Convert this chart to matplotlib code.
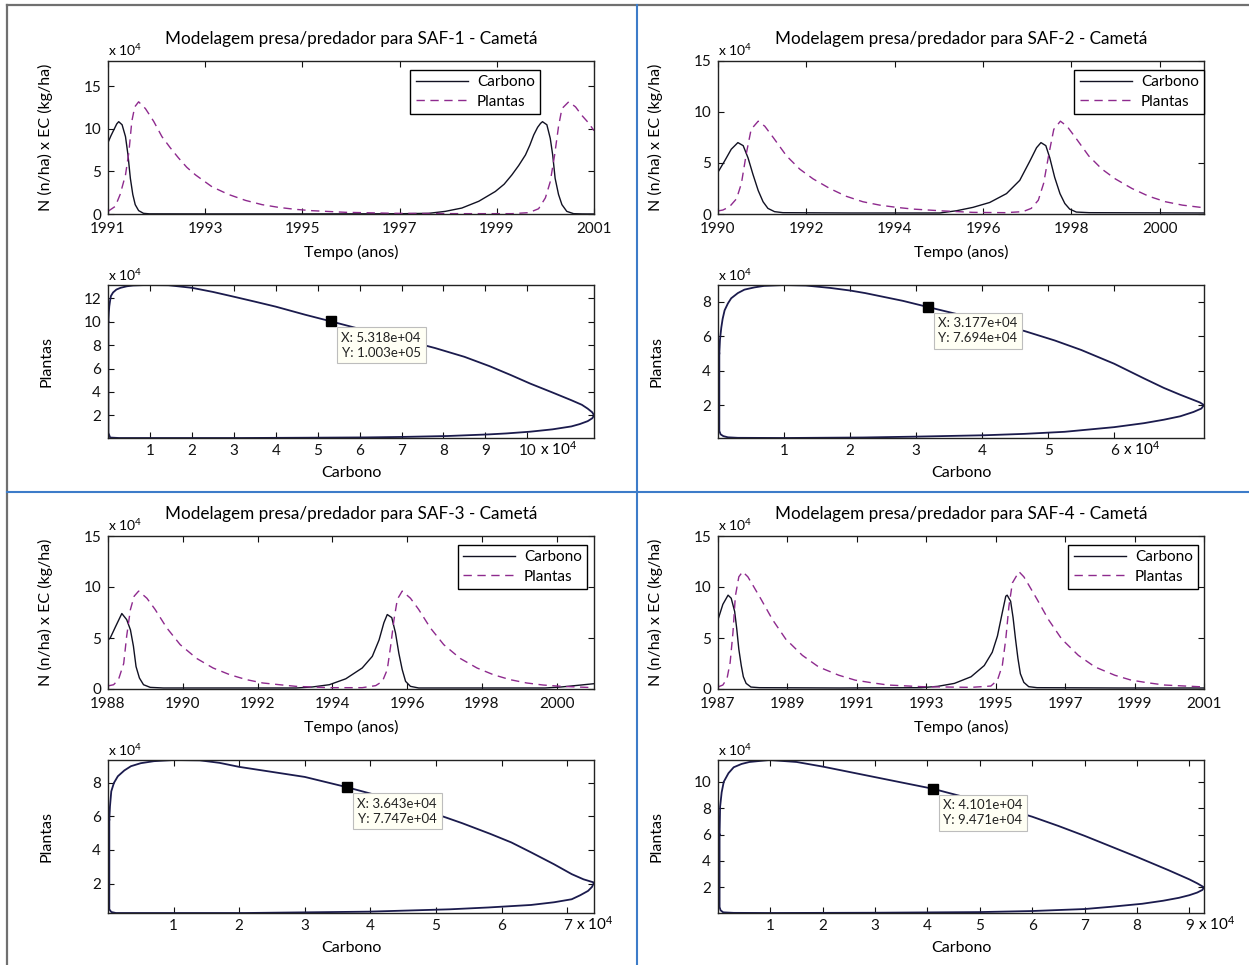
import matplotlib
matplotlib.use('Agg')
import matplotlib.pyplot as plt
from matplotlib.lines import Line2D

plt.rcParams['font.family'] = ['Lato', 'DejaVu Sans']
plt.rcParams['mathtext.default'] = 'regular'

# ---- time series (values in x 10^4) ----
# SAF-1
t_carb1 = [1991.0, 1991.06, 1991.12, 1991.18, 1991.22, 1991.29, 1991.36, 1991.41, 1991.46, 1991.51,
           1991.56, 1991.63, 1991.73, 1991.85, 1993.0, 1995.0, 1997.0, 1997.6, 1997.94, 1998.28,
           1998.63, 1998.97, 1999.15, 1999.31, 1999.45, 1999.59, 1999.68, 1999.76, 1999.84, 1999.9,
           1999.94, 2000.03, 2000.1, 2000.15, 2000.2, 2000.27, 2000.34, 2000.44, 2000.58, 2000.75,
           2001.0]
carb1 = [8.4, 9.2, 9.9, 10.6, 10.86, 10.5, 9.1, 7.0, 4.2, 2.3,
         1.1, 0.4, 0.08, 0.02, 0.01, 0.01, 0.03, 0.08, 0.31, 0.7,
         1.5, 2.65, 3.5, 4.6, 5.7, 6.95, 8.1, 9.3, 10.2, 10.66,
         10.86, 10.5, 8.9, 6.95, 4.2, 2.3, 1.1, 0.31, 0.04, 0.01,
         0.0]
t_plan1 = [1991.0, 1991.15, 1991.25, 1991.36, 1991.43, 1991.49, 1991.55, 1991.63, 1991.77, 1991.94,
           1992.11, 1992.28, 1992.45, 1992.62, 1992.8, 1993.14, 1993.48, 1993.83, 1994.17, 1994.51,
           1994.85, 1995.2, 1995.88, 1996.9, 1998.28, 1999.31, 1999.66, 1999.86, 2000.0, 2000.1,
           2000.19, 2000.27, 2000.34, 2000.48, 2000.62, 2000.75, 2000.89, 2001.0]
plan1 = [0.31, 0.9, 2.3, 4.6, 7.3, 10.9, 12.6, 13.2, 12.4, 10.9,
         9.1, 7.8, 6.6, 5.5, 4.6, 3.2, 2.3, 1.6, 1.1, 0.78,
         0.55, 0.39, 0.2, 0.08, 0.04, 0.04, 0.16, 0.62, 1.9, 3.8,
         6.95, 10.3, 12.4, 13.2, 12.6, 11.6, 10.7, 9.8]

# SAF-2
t_carb2 = [1990.0, 1990.15, 1990.3, 1990.45, 1990.57, 1990.68, 1990.79, 1990.91, 1991.02, 1991.13,
           1991.28, 1991.47, 1993.0, 1995.02, 1995.4, 1995.77, 1996.15, 1996.53, 1996.83, 1997.06,
           1997.21, 1997.31, 1997.42, 1997.51, 1997.62, 1997.74, 1997.85, 1997.96, 1998.11, 1998.4,
           2001.0]
carb2 = [4.1, 5.2, 6.35, 7.0, 6.7, 5.5, 3.9, 2.3, 1.2, 0.55,
         0.23, 0.13, 0.1, 0.1, 0.32, 0.65, 1.13, 2.0, 3.3, 5.2,
         6.5, 7.0, 6.7, 5.5, 3.6, 2.0, 1.03, 0.48, 0.19, 0.13,
         0.1]
t_plan2 = [1990.0, 1990.11, 1990.26, 1990.42, 1990.53, 1990.64, 1990.75, 1990.91, 1991.06, 1991.25,
           1991.55, 1991.85, 1992.15, 1992.53, 1992.9, 1993.28, 1993.66, 1994.04, 1994.42, 1995.02,
           1995.77, 1996.5, 1996.9, 1997.09, 1997.25, 1997.37, 1997.49, 1997.6, 1997.75, 1997.9,
           1998.09, 1998.39, 1998.69, 1998.99, 1999.37, 1999.75, 2000.13, 2000.51, 2001.0]
plan2 = [0.3, 0.39, 0.71, 1.5, 3.0, 5.9, 8.3, 9.1, 8.6, 7.5,
         5.7, 4.4, 3.45, 2.5, 1.74, 1.2, 0.87, 0.65, 0.48, 0.32,
         0.16, 0.13, 0.23, 0.55, 1.35, 3.0, 5.9, 8.3, 9.1, 8.6,
         7.5, 5.7, 4.4, 3.45, 2.5, 1.74, 1.2, 0.87, 0.61]

# SAF-3
t_carb3 = [1988.0, 1988.06, 1988.2, 1988.37, 1988.5, 1988.6, 1988.68, 1988.75, 1988.84, 1988.95,
           1989.13, 1989.48, 1991.0, 1993.03, 1993.47, 1993.92, 1994.36, 1994.8, 1995.07, 1995.25,
           1995.38, 1995.47, 1995.59, 1995.69, 1995.78, 1995.87, 1995.96, 1996.09, 1996.31, 1998.0,
           1999.69, 2000.13, 2000.57, 2001.0]
carb3 = [4.8, 5.0, 6.1, 7.4, 6.8, 5.8, 4.2, 2.2, 1.08, 0.42,
         0.16, 0.1, 0.1, 0.1, 0.2, 0.42, 1.0, 2.06, 3.2, 4.8,
         6.5, 7.3, 7.0, 5.5, 3.5, 1.9, 0.75, 0.26, 0.1, 0.1,
         0.1, 0.2, 0.36, 0.52]
t_plan3 = [1988.0, 1988.15, 1988.28, 1988.42, 1988.5, 1988.6, 1988.7, 1988.82, 1989.04, 1989.26,
           1989.57, 1989.93, 1990.37, 1990.81, 1991.26, 1991.7, 1992.14, 1992.59, 1993.03, 1993.92,
           1994.8, 1995.16, 1995.34, 1995.47, 1995.56, 1995.65, 1995.74, 1995.87, 1996.09, 1996.31,
           1996.62, 1996.98, 1997.42, 1997.87, 1998.31, 1998.75, 1999.2, 1999.64, 2000.13, 2001.0]
plan3 = [0.3, 0.42, 0.92, 2.5, 5.2, 7.8, 9.1, 9.6, 8.9, 7.8,
         6.0, 4.35, 3.0, 2.06, 1.4, 0.92, 0.59, 0.42, 0.26, 0.13,
         0.13, 0.33, 0.75, 1.9, 4.2, 6.8, 8.8, 9.6, 8.9, 7.8,
         6.0, 4.35, 3.0, 2.06, 1.4, 0.92, 0.59, 0.39, 0.26, 0.13]

# SAF-4
t_carb4 = [1987.0, 1987.14, 1987.29, 1987.38, 1987.48, 1987.54, 1987.6, 1987.67, 1987.73, 1987.81,
           1987.95, 1988.19, 1990.5, 1992.86, 1993.33, 1993.81, 1994.29, 1994.67, 1994.9, 1995.05,
           1995.19, 1995.29, 1995.33, 1995.43, 1995.5, 1995.57, 1995.64, 1995.71, 1995.81, 1995.95,
           1996.19, 1998.5, 2001.0]
carb4 = [6.8, 8.3, 9.2, 8.9, 7.6, 5.9, 3.9, 2.3, 1.2, 0.55,
         0.19, 0.13, 0.1, 0.13, 0.26, 0.55, 1.2, 2.3, 3.6, 5.2,
         7.5, 9.1, 9.2, 8.6, 7.0, 4.9, 3.0, 1.5, 0.65, 0.23,
         0.13, 0.1, 0.1]
t_plan4 = [1987.0, 1987.14, 1987.26, 1987.35, 1987.43, 1987.5, 1987.6, 1987.71, 1987.86, 1988.0,
           1988.24, 1988.57, 1988.95, 1989.43, 1989.9, 1990.48, 1990.95, 1991.43, 1991.9, 1992.86,
           1994.29, 1994.86, 1995.05, 1995.19, 1995.29, 1995.38, 1995.48, 1995.67, 1995.81, 1995.95,
           1996.19, 1996.52, 1996.9, 1997.38, 1997.86, 1998.43, 1998.9, 1999.38, 1999.86, 2001.0]
plan4 = [0.2, 0.39, 1.03, 2.6, 5.5, 9.1, 11.0, 11.5, 11.0, 10.2,
         8.8, 6.8, 4.9, 3.3, 2.16, 1.35, 0.87, 0.61, 0.39, 0.23,
         0.16, 0.29, 0.87, 2.3, 4.9, 8.1, 10.4, 11.5, 11.0, 10.2,
         8.8, 6.8, 4.9, 3.3, 2.16, 1.35, 0.87, 0.61, 0.39, 0.2]

# ---- phase plots (Carbono vs Plantas, x 10^4) ----
ph_carb1 = [0.01, 0.02, 0.03, 0.05, 0.07, 0.12, 0.2, 0.3, 0.45, 0.6, 0.9, 1.44, 2.0, 2.5, 3.0,
            3.5, 4.0, 4.7, 5.318, 6.2, 7.0, 7.8, 8.5, 9.1, 9.6, 10.07, 10.6, 11.05, 11.3, 11.44,
            11.55, 11.59, 11.55, 11.44, 11.25, 11.05, 10.6, 10.07, 9.5, 9.09, 8.1, 7.0, 6.15, 4.5,
            3.2, 1.5, 0.26, 0.05, 0.01, 0.01]
ph_plan1 = [10.0, 10.8, 11.3, 11.8, 12.2, 12.5, 12.75, 12.9, 13.03, 13.1, 13.14, 13.12, 12.9, 12.55, 12.14,
            11.72, 11.29, 10.6, 10.03, 9.2, 8.5, 7.75, 7.0, 6.2, 5.45, 4.71, 3.95, 3.29, 2.9, 2.57,
            2.25, 2.0, 1.75, 1.5, 1.25, 1.05, 0.8, 0.6, 0.45, 0.37, 0.23, 0.15, 0.11, 0.08,
            0.06, 0.06, 0.06, 0.1, 0.5, 10.0]

ph_carb2 = [0.02, 0.03, 0.05, 0.07, 0.1, 0.15, 0.2, 0.3, 0.4, 0.55, 0.7, 1.0, 1.33, 1.7, 2.0,
            2.23, 2.8, 3.177, 3.6, 4.0, 4.64, 5.1, 5.5, 6.0, 6.45, 6.75, 7.0, 7.2, 7.3, 7.36,
            7.32, 7.2, 7.0, 6.75, 6.45, 6.0, 5.25, 4.64, 4.04, 3.0, 2.2, 1.0, 0.3, 0.15, 0.08,
            0.04, 0.02, 0.02]
ph_plan2 = [5.0, 5.8, 6.5, 7.0, 7.5, 7.9, 8.2, 8.5, 8.7, 8.83, 8.92, 8.97, 8.94, 8.8, 8.65,
            8.5, 8.05, 7.694, 7.3, 6.95, 6.3, 5.75, 5.2, 4.4, 3.55, 3.0, 2.6, 2.3, 2.15, 2.0,
            1.8, 1.6, 1.35, 1.15, 0.95, 0.72, 0.45, 0.33, 0.25, 0.17, 0.12, 0.09, 0.1, 0.13, 0.2,
            0.3, 0.5, 5.0]

ph_carb3 = [0.02, 0.03, 0.05, 0.09, 0.15, 0.25, 0.35, 0.5, 0.7, 1.0, 1.4, 1.7, 2.0, 2.5, 3.0,
            3.643, 4.3, 4.99, 5.4, 5.83, 6.15, 6.45, 6.8, 7.07, 7.25, 7.41, 7.38, 7.32, 7.2, 7.07,
            6.8, 6.45, 5.8, 5.21, 3.97, 2.1, 0.12, 0.05, 0.02, 0.02]
ph_plan3 = [5.8, 6.6, 7.5, 8.0, 8.4, 8.75, 9.0, 9.18, 9.3, 9.37, 9.35, 9.2, 8.96, 8.66, 8.36,
            7.747, 7.05, 6.16, 5.6, 4.96, 4.45, 3.86, 3.15, 2.56, 2.25, 2.06, 1.8, 1.56, 1.3, 1.06,
            0.88, 0.72, 0.57, 0.46, 0.32, 0.24, 0.24, 0.3, 0.46, 5.8]

ph_carb4 = [0.03, 0.035, 0.04, 0.07, 0.11, 0.2, 0.3, 0.45, 0.6, 0.98, 1.5, 2.0, 2.5, 3.0, 3.5,
            4.101, 4.6, 5.0, 5.5, 6.0, 6.5, 7.0, 7.5, 8.0, 8.3, 8.6, 8.8, 9.0, 9.15, 9.28,
            9.25, 9.15, 9.0, 8.8, 8.5, 8.1, 7.5, 7.0, 6.0, 5.0, 3.0, 1.0, 0.3, 0.1, 0.05,
            0.03, 0.03]
ph_plan4 = [6.0, 7.0, 8.1, 9.2, 10.0, 10.65, 11.1, 11.35, 11.5, 11.65, 11.5, 11.15, 10.75, 10.35, 9.95,
            9.471, 8.95, 8.5, 7.95, 7.35, 6.65, 5.9, 5.1, 4.3, 3.8, 3.3, 2.95, 2.6, 2.3, 2.0,
            1.8, 1.6, 1.4, 1.2, 0.98, 0.75, 0.52, 0.35, 0.2, 0.12, 0.07, 0.05, 0.06, 0.1, 0.25,
            0.5, 6.0]

# data tips (full values)
tip_x = [5.318e4, 3.177e4, 3.643e4, 4.101e4]
tip_y = [1.003e5, 7.694e4, 7.747e4, 9.471e4]

titles = ['Modelagem presa/predador para SAF-%d - Cametá' % i for i in (1, 2, 3, 4)]

time_xticks = [list(range(1991, 2002, 2)), list(range(1990, 2001, 2)),
               list(range(1988, 2001, 2)), list(range(1987, 2002, 2))]
time_ymax = [18, 15, 15, 15]
phase_xticks = [list(range(1, 11)), list(range(1, 7)), list(range(1, 8)), list(range(1, 10))]
phase_yticks = [list(range(2, 13, 2)), [2, 4, 6, 8], [2, 4, 6, 8], list(range(2, 11, 2))]
legend_x = [0.889, 1.0, 0.986, 0.988]

times = [(t_carb1, carb1, t_plan1, plan1), (t_carb2, carb2, t_plan2, plan2),
         (t_carb3, carb3, t_plan3, plan3), (t_carb4, carb4, t_plan4, plan4)]
phases = [(ph_carb1, ph_plan1), (ph_carb2, ph_plan2), (ph_carb3, ph_plan3), (ph_carb4, ph_plan4)]

W, H = 1249, 965
fig = plt.figure(figsize=(W / 100, H / 100), dpi=100)

# axes boxes in pixels: left, top
lefts = [108, 718, 108, 718]
time_tops = [61, 61, 536, 536]
phase_tops = [285, 285, 760, 760]
ax_w, ax_h = 486, 153


def add_ax(left, top):
    return fig.add_axes([left / W, 1 - (top + ax_h) / H, ax_w / W, ax_h / H])


def style(ax, xpad):
    ax.tick_params(direction='in', top=True, right=True, length=4.5, width=0.8,
                   labelsize=11, colors='#111111')
    ax.tick_params(axis='x', pad=xpad)
    ax.tick_params(axis='y', pad=5)
    for s in ax.spines.values():
        s.set_linewidth(1.0)
        s.set_color('#222222')


for i in range(4):
    tc, c, tp, p = times[i]
    ax = add_ax(lefts[i], time_tops[i])
    ax.plot(tc, c, color='#111122', lw=1.0, label='Carbono')
    ax.plot(tp, p, color='#8e2a8e', lw=1.0, ls=(0, (6, 4)), label='Plantas')
    ax.set_xlim(tc[0], tc[-1])
    ax.set_ylim(0, time_ymax[i])
    ax.set_xticks(time_xticks[i])
    ax.set_yticks([0, 5, 10, 15])
    style(ax, 6)
    ax.set_xlabel('Tempo (anos)', fontsize=11.5)
    ax.xaxis.set_label_coords(0.5, -0.205)
    ax.set_ylabel('N (n/ha) x EC (kg/ha)', fontsize=11.5)
    ax.yaxis.set_label_coords(-0.113, 0.5)
    ax.text(0.5, 1 + 22 / ax_h, titles[i], transform=ax.transAxes, ha='center', va='center',
            fontsize=12.3)
    ax.text(0.0, 1 + 11 / ax_h, 'x 10$^4$', transform=ax.transAxes, ha='left', va='center',
            fontsize=10)
    leg = ax.legend(loc='upper right', bbox_to_anchor=(legend_x[i], 0.941), fancybox=False,
                    edgecolor='black', framealpha=1, fontsize=11, handlelength=3.4,
                    borderpad=0.35, labelspacing=0.35, handletextpad=0.6, borderaxespad=0)
    leg.get_frame().set_linewidth(1.0)

    # phase plot
    px, py = phases[i]
    ax2 = add_ax(lefts[i], phase_tops[i])
    ax2.plot(px, py, color='#1b1b4d', lw=1.3)
    ax2.set_xlim(0, max(px))
    ax2.set_ylim(min(py), max(py))
    ax2.set_xticks(phase_xticks[i])
    ax2.set_yticks(phase_yticks[i])
    style(ax2, 4)
    ax2.set_xlabel('Carbono', fontsize=11.5)
    ax2.xaxis.set_label_coords(0.5, -0.18)
    ax2.set_ylabel('Plantas', fontsize=11.5)
    ax2.yaxis.set_label_coords(-0.113, 0.5)
    ax2.text(0.0, 1 + 10 / ax_h, 'x 10$^4$', transform=ax2.transAxes, ha='left', va='center',
             fontsize=10)
    last = phase_xticks[i][-1]
    half = len(str(last)) * 3.2
    ax2.annotate('x 10$^4$', xy=(last, 0), xycoords=ax2.get_xaxis_transform(),
                 xytext=(half + 3, -1.5), textcoords='offset points', ha='left', va='top',
                 fontsize=11)
    # data tip
    ax2.plot(tip_x[i] / 1e4, tip_y[i] / 1e4, 's', color='black', ms=7, zorder=6)
    ax2.annotate('X: %.3e\nY: %.3e' % (tip_x[i], tip_y[i]), xy=(tip_x[i] / 1e4, tip_y[i] / 1e4),
                 xytext=(7.5, -7.5), textcoords='offset points', ha='left', va='top', fontsize=9.5,
                 multialignment='center', color='#222222', zorder=7, linespacing=1.3,
                 bbox=dict(boxstyle='square,pad=0.35', fc='#fffff4', ec='#bdbdbd', lw=0.8))

# frame and separators
fig.add_artist(Line2D([7 / W, 1], [1 - 5 / H, 1 - 5 / H], color='#707070', lw=1.6))
fig.add_artist(Line2D([7 / W, 7 / W], [0, 1 - 5 / H], color='#707070', lw=1.6))
fig.add_artist(Line2D([637 / W, 637 / W], [0, 1 - 5 / H], color='#3d7cc9', lw=1.5))
fig.add_artist(Line2D([7 / W, 1], [1 - 492 / H, 1 - 492 / H], color='#3d7cc9', lw=1.5))

fig.savefig('out.png', dpi=100)
